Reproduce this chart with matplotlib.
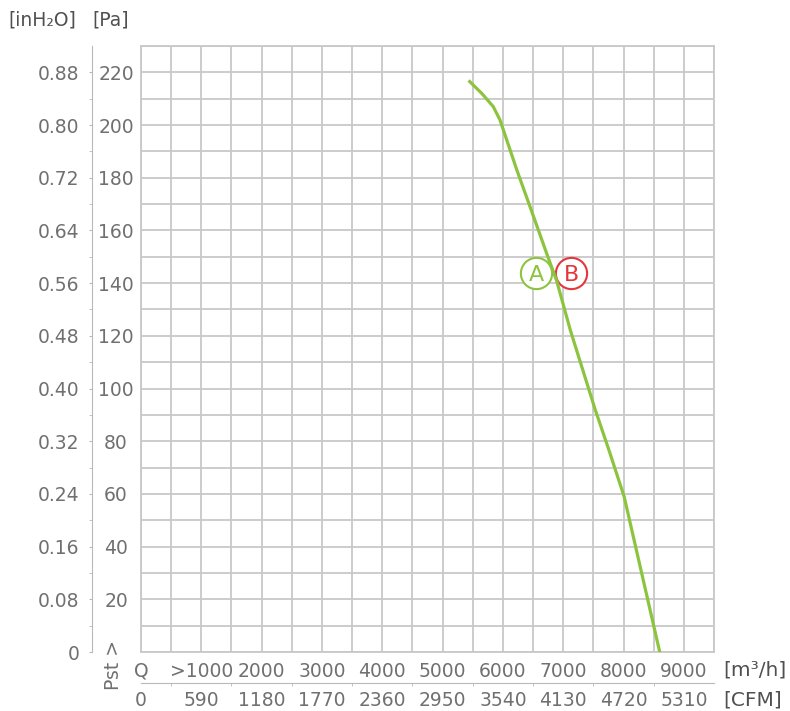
import numpy as np
import matplotlib
matplotlib.use("Agg")
import matplotlib.pyplot as plt

plt.rcParams['font.family'] = ['DejaVu Sans']

# fan curve (Q in m3/h, static pressure in Pa)
q_curve = [5450, 5650, 5840, 5950, 6010, 6230, 6450, 6730, 6890, 7120,
           7530, 7760, 7910, 8010, 8600]
p_curve = [216.5, 212, 207, 202, 198, 183, 169, 151, 141, 122,
           92, 76.5, 66, 59, 0]

# working points A and B
point_names = ["A", "B"]
point_q = [6550, 7130]
point_p = [143.8, 143.8]
point_colors = ["#8cc43f", "#e4363c"]

q_ticks = [0, 1000, 2000, 3000, 4000, 5000, 6000, 7000, 8000, 9000]
q_labels = ["Q", ">1000", "2000", "3000", "4000", "5000", "6000", "7000", "8000", "9000"]
cfm_labels = ["0", "590", "1180", "1770", "2360", "2950", "3540", "4130", "4720", "5310"]
pa_ticks = [20, 40, 60, 80, 100, 120, 140, 160, 180, 200, 220]
inh2o_ticks = [0, 20, 40, 60, 80, 100, 120, 140, 160, 180, 200, 220]
inh2o_labels = ["0", "0.08", "0.16", "0.24", "0.32", "0.40", "0.48", "0.56",
                "0.64", "0.72", "0.80", "0.88"]

txt = "#707070"
dark = "#505050"
grid_c = "#c8c8c8"
fs = 13.5

fig = plt.figure(figsize=(7.9, 7.11), dpi=100)
ax = fig.add_axes([141/790, 59/711, 573/790, 606/711])
ax.set_xlim(0, 9500)
ax.set_ylim(0, 230)

ax.set_xticks(q_ticks)
ax.set_xticklabels(q_labels)
ax.set_xticks(np.arange(0, 9501, 500), minor=True)
ax.set_yticks(pa_ticks)
ax.set_yticks(np.arange(0, 231, 10), minor=True)
ax.grid(which="both", color=grid_c, linewidth=1.3)
ax.set_axisbelow(True)
for s in ax.spines.values():
    s.set_color(grid_c)
    s.set_linewidth(1.3)
ax.tick_params(which="both", length=0, colors=txt, labelsize=fs)
ax.tick_params(axis="x", pad=7)
ax.tick_params(axis="y", pad=18)
for lab in ax.get_yticklabels():
    lab.set_horizontalalignment("center")

# curve and working points
ax.plot(q_curve, p_curve, color="#8cc43f", linewidth=2.3, zorder=4,
        solid_joinstyle="round")
for name, q, p, c in zip(point_names, point_q, point_p, point_colors):
    ax.plot([q], [p], marker="o", markersize=22.5, markerfacecolor="white",
            markeredgecolor=c, markeredgewidth=1.5, zorder=3)
    ax.text(q, p, name, color=c, fontsize=16, ha="center", va="center_baseline",
            zorder=5)

# inH2O axis on the left
sy = ax.secondary_yaxis(-49/573)
sy.set_yticks(inh2o_ticks)
sy.set_yticklabels(inh2o_labels)
sy.set_yticks(np.arange(10, 230, 20), minor=True)
sy.spines["left"].set_color("#b8b8b8")
sy.tick_params(which="both", length=2.5, color="#b8b8b8", colors=txt,
               labelsize=fs, pad=6.5)
sy.tick_params(which="both", color="#b8b8b8")

# CFM axis below
sx = ax.secondary_xaxis(-31/606)
sx.set_xticks(q_ticks)
sx.set_xticklabels(cfm_labels)
sx.set_xticks(np.arange(500, 9000, 1000), minor=True)
sx.spines["bottom"].set_color("#b8b8b8")
sx.tick_params(which="major", length=0, colors=txt, labelsize=fs, pad=6)
sx.tick_params(which="minor", length=2, color="#b8b8b8")

# unit labels
ax.text((723-141)/573, -18/606, "[m³/h]", transform=ax.transAxes,
        fontsize=14.5, color=dark, ha="left", va="center")
ax.text((723-141)/573, -48/606, "[CFM]", transform=ax.transAxes,
        fontsize=14.5, color=dark, ha="left", va="center")
fig.text(8/790, 1-20/711, "[inH₂O]", fontsize=fs, color=dark, ha="left", va="center")
fig.text(92/790, 1-20/711, "[Pa]", fontsize=fs, color=dark, ha="left", va="center")
fig.text(113/790, 1-665/711, "Pst >", fontsize=fs, color=txt, rotation=90,
         ha="center", va="center")

fig.savefig("out.png", dpi=100)
